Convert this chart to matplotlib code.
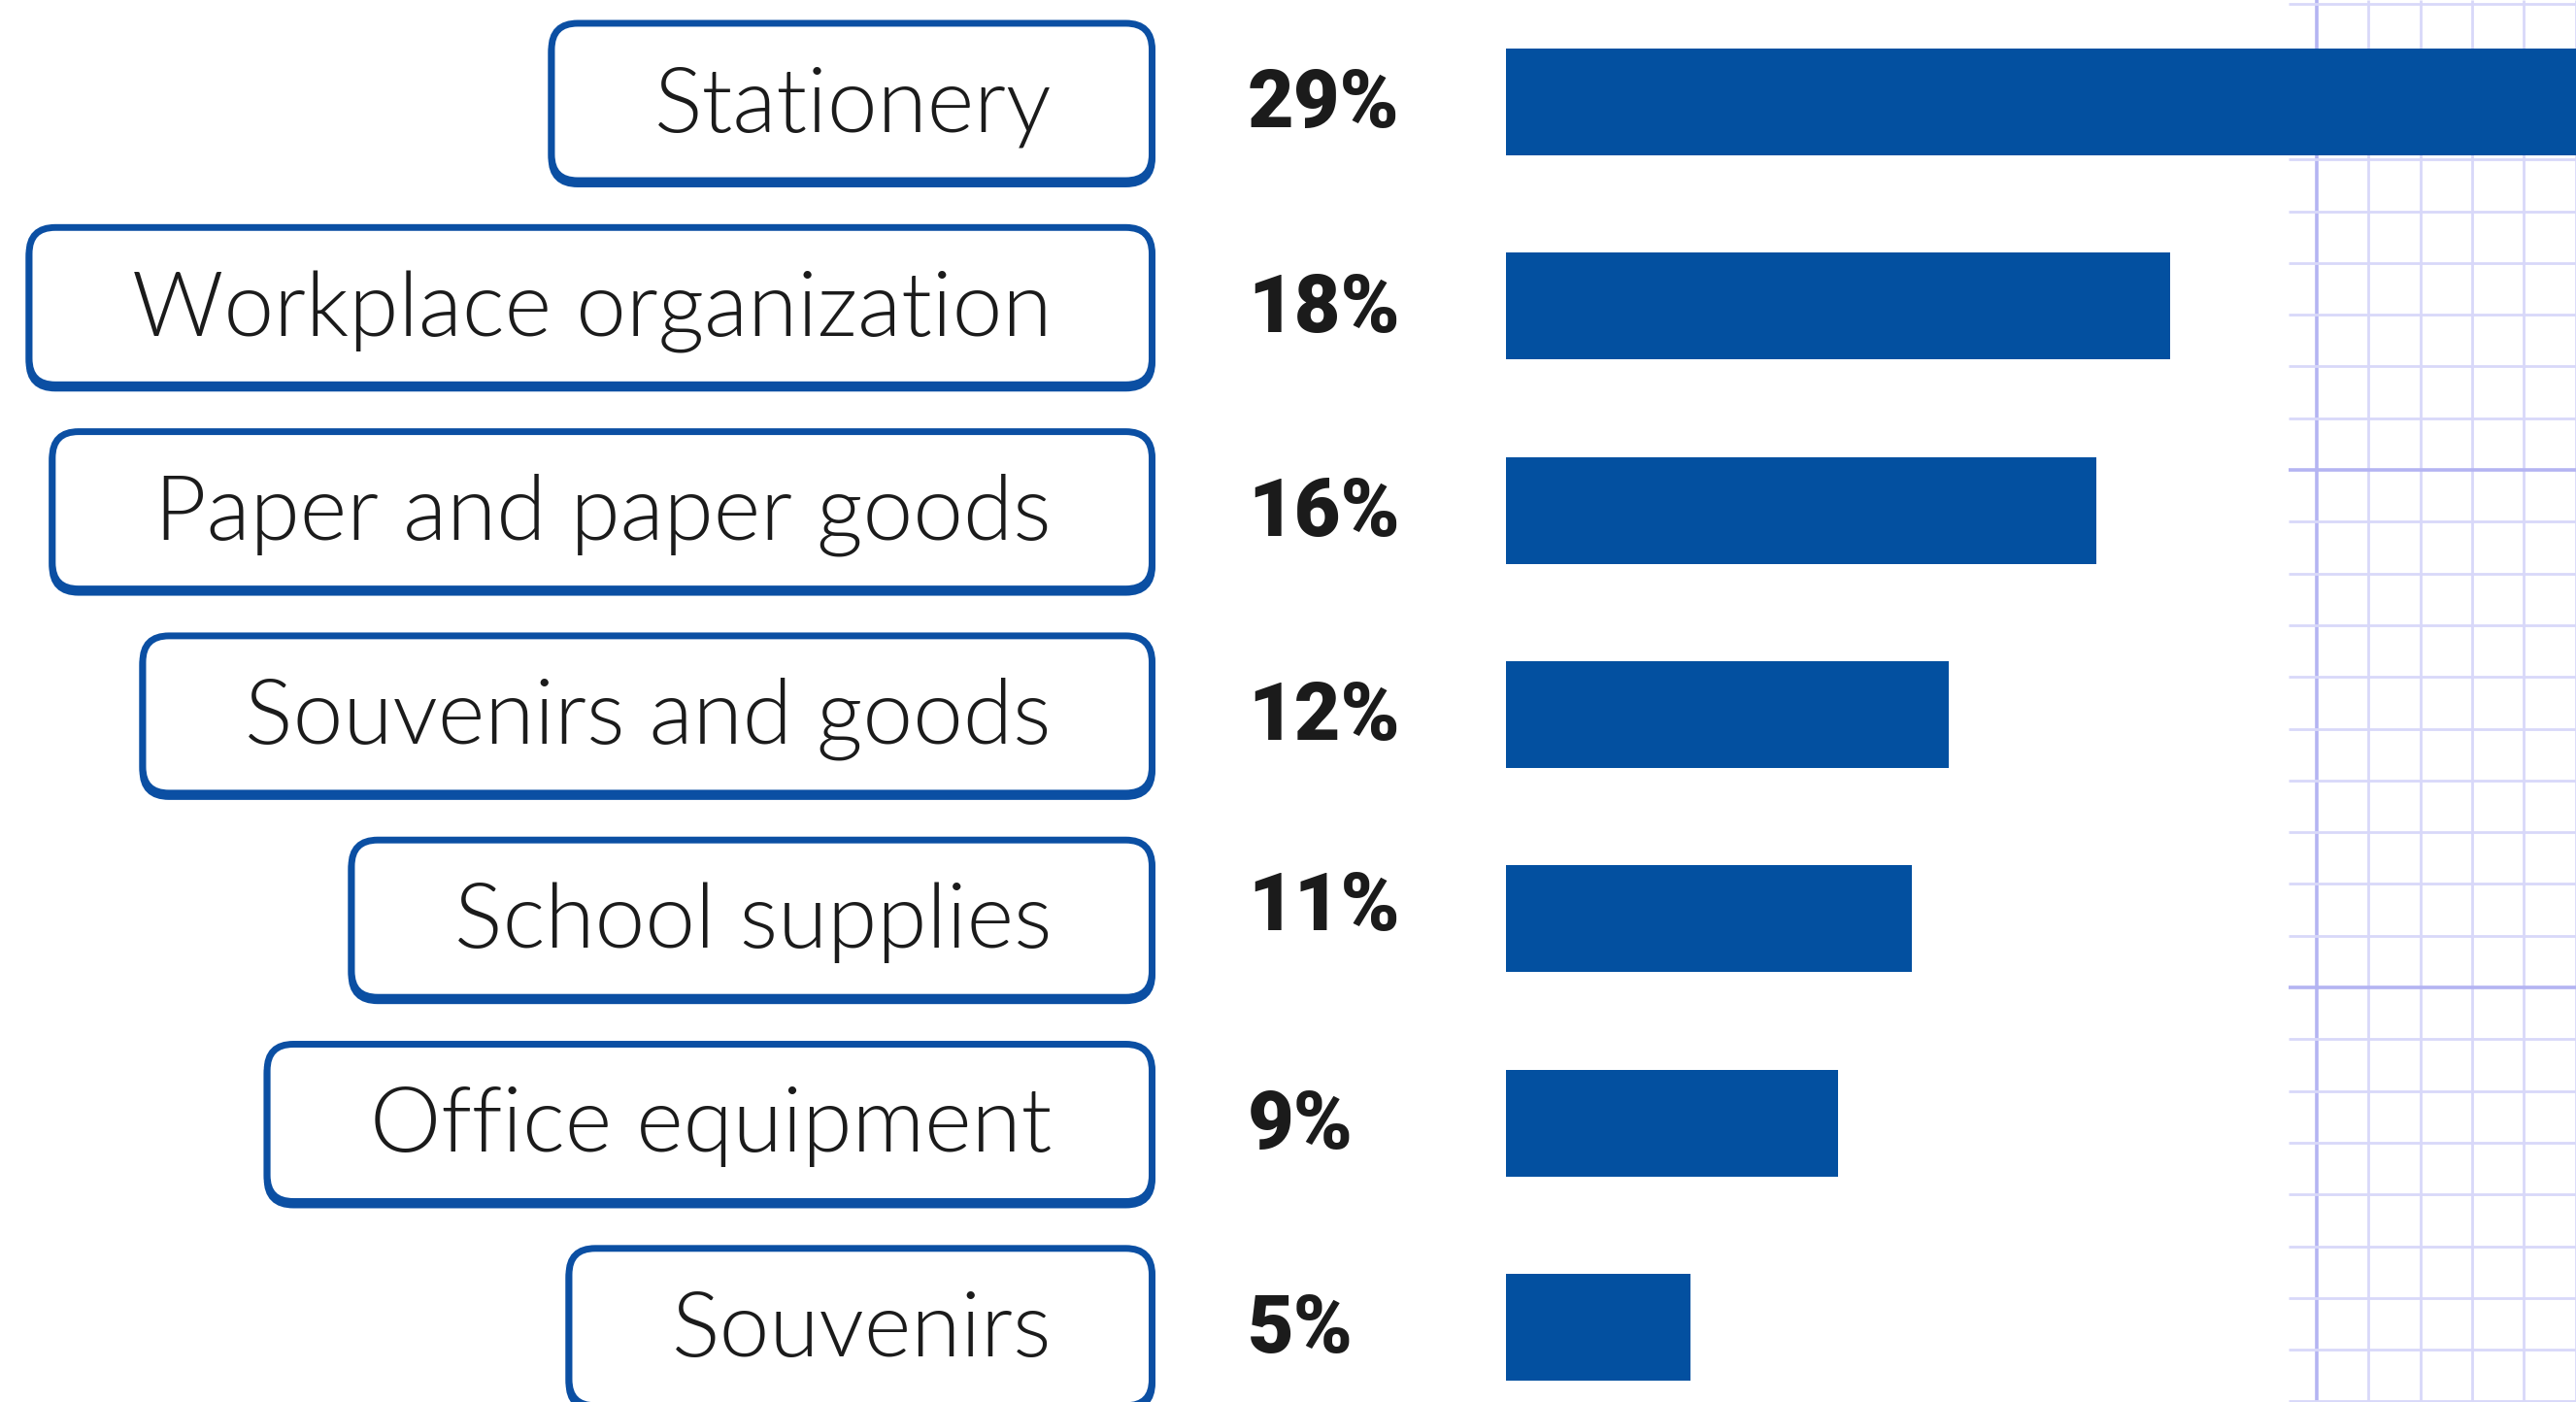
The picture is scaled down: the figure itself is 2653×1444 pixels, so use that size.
import matplotlib
matplotlib.use("Agg")
import matplotlib.pyplot as plt
from matplotlib.patches import FancyBboxPatch

# ---------------- data ----------------
categories = ["Stationery", "Workplace organization", "Paper and paper goods",
              "Souvenirs and goods", "School supplies", "Office equipment", "Souvenirs"]
shares = [29, 18, 16, 12, 11, 9, 5]
value_labels = ["29%", "18%", "16%", "12%", "11%", "9%", "5%"]

# ---------------- style / layout ----------------
W, H = 2653, 1444
BAR = "#0350A0"
EDGE = "#0B4FA3"
TXT = "#1b1b1b"
GRID_THIN = "#d8d8f9"
GRID_THICK = "#b4b4f2"
PITCH = 210.3          # px between rows
TOP = 105              # px, centre of first row
LABEL_FONT = ["Lato", "DejaVu Sans"]
LABEL_WEIGHT = 300
VALUE_FONT = ["Roboto", "Lato", "DejaVu Sans"]

fig = plt.figure(figsize=(W / 100, H / 100), dpi=100)
fig.patch.set_facecolor("white")
y_top = -TOP / PITCH
y_bot = (H - TOP) / PITCH

# background grid (decorative squared paper)
bg = fig.add_axes([0, 0, 1, 1], zorder=0)
bg.set_xlim(0, W)
bg.set_ylim(H, 0)
bg.axis("off")
cell = 53.3
for k in range(0, 6):
    x = 2386 + k * cell
    thick = k % 10 == 0
    bg.plot([x, x], [0, H], color=GRID_THICK if thick else GRID_THIN,
            lw=2.6 if thick else 2.0, solid_capstyle="butt")
for k in range(-9, 19):
    y = 484 + k * cell
    thick = k % 10 == 0
    bg.plot([2357, W], [y, y], color=GRID_THICK if thick else GRID_THIN,
            lw=2.6 if thick else 2.0, solid_capstyle="butt")

# bars
ax = fig.add_axes([1551 / W, 0, (W - 1551) / W, 1], zorder=1)
ax.patch.set_alpha(0)
ax.barh(range(len(shares)), shares, height=110 / PITCH, color=BAR, linewidth=0)
ax.set_xlim(0, 29)
ax.set_ylim(y_bot, y_top)
ax.axis("off")

# labels
lab = fig.add_axes([0, 0, 1, 1], zorder=2)
lab.patch.set_alpha(0)
lab.set_xlim(0, W)
lab.set_ylim(y_bot, y_top)
lab.axis("off")

fig.canvas.draw()
r = fig.canvas.get_renderer()

# fit category font so the longest label is ~948 px wide
probe = lab.text(0, 0, "Workplace organization", fontsize=60, family=LABEL_FONT,
                 weight=LABEL_WEIGHT)
pw = probe.get_window_extent(r).width
probe.remove()
fs = 60 * 948 / pw

probe = lab.text(0, 0, "29%", fontsize=50, family=VALUE_FONT, weight="black")
pw2 = probe.get_window_extent(r).width
probe.remove()
fs2 = 50 * 157 / pw2

nudge = {"11%": -15}
for i, (cat, vl) in enumerate(zip(categories, value_labels)):
    t = lab.text(1083, i + 30 / PITCH, cat, ha="right", va="baseline",
                 fontsize=fs, family=LABEL_FONT, weight=LABEL_WEIGHT, color=TXT, zorder=5)
    bb = t.get_window_extent(r)
    left = bb.x0 - 105.5
    right = 1186.5
    h = 162 / PITCH
    shadow = FancyBboxPatch((left, i - h / 2 + 3.5 / PITCH), right - left, h,
                            boxstyle="round,pad=0,rounding_size=27",
                            mutation_aspect=1 / PITCH, fc=EDGE, ec=EDGE,
                            lw=5.0, zorder=3)
    box = FancyBboxPatch((left, i - h / 2), right - left, h,
                         boxstyle="round,pad=0,rounding_size=27",
                         mutation_aspect=1 / PITCH, fc="white", ec=EDGE,
                         lw=5.0, zorder=4)
    lab.add_patch(shadow)
    lab.add_patch(box)
    lab.text(1285, i + (26.5 + nudge.get(vl, 0)) / PITCH, vl, ha="left", va="baseline",
             fontsize=fs2, family=VALUE_FONT, weight="black", color=TXT, zorder=5)

fig.savefig("out.png", dpi=100, facecolor="white")
